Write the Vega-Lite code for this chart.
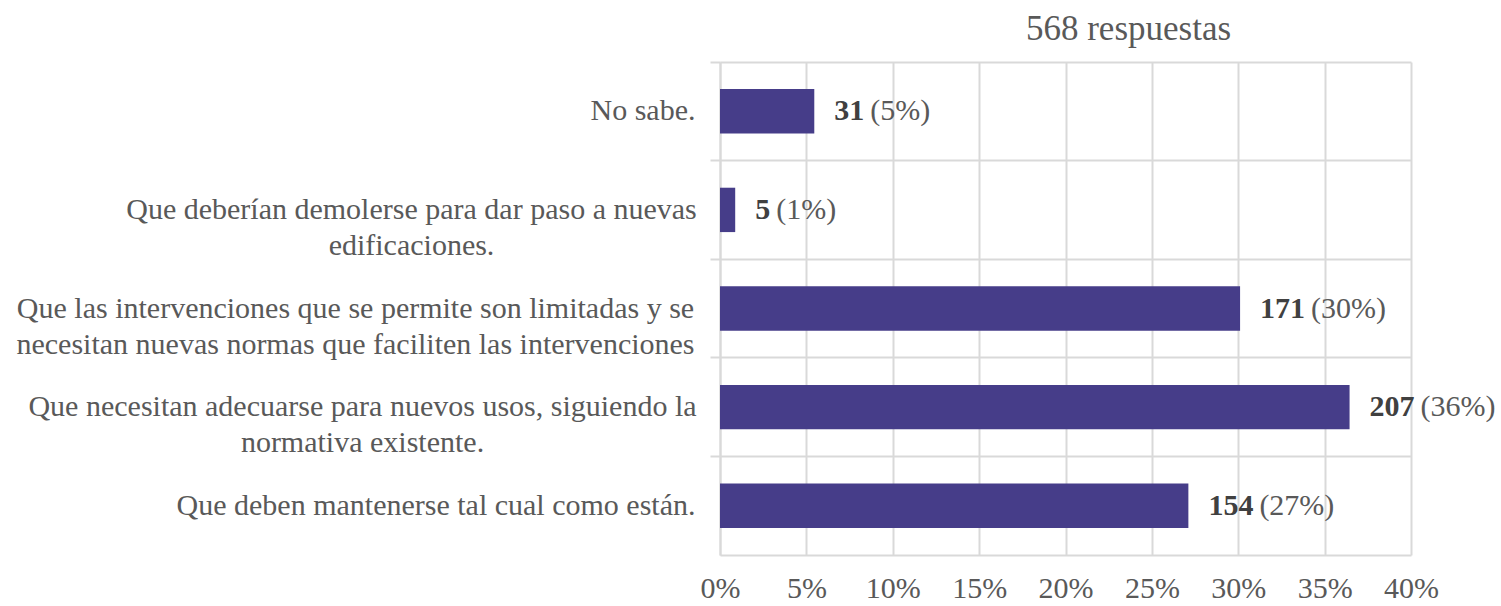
{
  "$schema": "https://vega.github.io/schema/vega-lite/v6.json",
  "width": 691,
  "height": 493,
  "autosize": {"type": "none"},
  "padding": {"left": 720, "top": 62, "right": 90, "bottom": 51},
  "background": "white",
  "config": {"view": {"stroke": null}, "font": "Liberation Serif"},
  "title": {"text": "568 respuestas", "font": "Liberation Serif", "fontSize": 35, "fontWeight": "normal", "color": "#595959", "anchor": "middle", "dx": 63, "offset": 14},
  "data": {"values": [
    {"resp": "No sabe.", "n": 31, "pct": 0.05458, "pctLabel": "(5%)"},
    {"resp": "Que deberían demolerse para dar paso a nuevas|edificaciones.", "n": 5, "pct": 0.0088, "pctLabel": "(1%)"},
    {"resp": "Que las intervenciones que se permite son limitadas y se|necesitan nuevas normas que faciliten las intervenciones", "n": 171, "pct": 0.30106, "pctLabel": "(30%)"},
    {"resp": "Que necesitan adecuarse para nuevos usos, siguiendo la|normativa  existente.", "n": 207, "pct": 0.36444, "pctLabel": "(36%)"},
    {"resp": "Que deben mantenerse tal cual como están.", "n": 154, "pct": 0.27113, "pctLabel": "(27%)"}
  ]},
  "encoding": {
    "y": {
      "field": "resp", "type": "nominal", "sort": null,
      "scale": {"paddingInner": 0.55, "paddingOuter": 0.275},
      "axis": {
        "title": null,
        "labelExpr": "split(datum.label, '|')",
        "labelFont": "Liberation Serif", "labelFontSize": 30, "labelColor": "#595959",
        "labelLimit": 0, "labelLineHeight": 36,
        "labelAlign": {"condition": {"test": "indexof(datum.value, '|') >= 0", "value": "center"}, "value": "right"},
        "labelPadding": {"condition": [
          {"test": "indexof(datum.value, 'demolerse') >= 0", "value": 299},
          {"test": "indexof(datum.value, 'permite') >= 0", "value": 355},
          {"test": "indexof(datum.value, 'adecuarse') >= 0", "value": 348}
        ], "value": 15},
        "domain": true, "domainColor": "#d9d9d9", "domainWidth": 2,
        "ticks": true, "tickColor": "#d9d9d9", "tickWidth": 2, "tickSize": 10,
        "grid": true, "gridColor": "#d9d9d9", "gridWidth": 2,
        "bandPosition": -0.6111
      }
    },
    "x": {
      "field": "pct", "type": "quantitative",
      "scale": {"domain": [0, 0.4]},
      "axis": {
        "title": null, "format": ".0%", "labelFlush": false,
        "values": [0, 0.05, 0.1, 0.15, 0.2, 0.25, 0.3, 0.35, 0.4],
        "labelFont": "Liberation Serif", "labelFontSize": 30, "labelColor": "#595959",
        "labelPadding": 18, "domain": true, "domainColor": "#d9d9d9", "domainWidth": 2, "ticks": false,
        "grid": true, "gridColor": "#d9d9d9", "gridWidth": 2
      }
    }
  },
  "layer": [
    {"mark": {"type": "bar", "color": "#463d89"}},
    {"mark": {"type": "text", "align": "left", "baseline": "middle", "dx": 20, "font": "Liberation Serif", "fontSize": 30, "fontWeight": "bold", "color": "#404040"},
     "encoding": {"text": {"field": "n", "type": "nominal"}}},
    {"mark": {"type": "text", "align": "left", "baseline": "middle", "dx": {"expr": "26 + 15*length(toString(datum.n))"}, "font": "Liberation Serif", "fontSize": 30, "color": "#595959"},
     "encoding": {"text": {"field": "pctLabel", "type": "nominal"}}}
  ]
}
